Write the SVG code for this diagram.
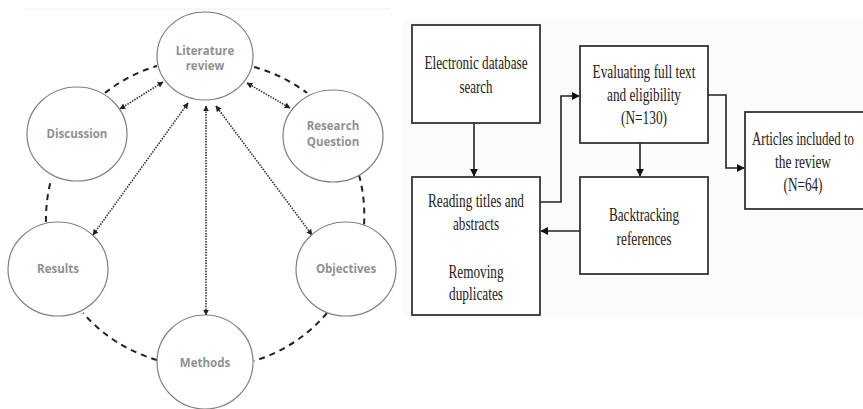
<svg xmlns="http://www.w3.org/2000/svg" width="863" height="409" viewBox="0 0 863 409">
<style>
.c{fill:#fff;stroke:#808080;stroke-width:1.2}
.ct{font-family:"Open Sans","Noto Sans",sans-serif;font-weight:bold;font-size:11.5px;fill:#909090;text-anchor:middle}
.dash{fill:none;stroke:#222;stroke-width:2;stroke-dasharray:6 5}
.dot{fill:none;stroke:#333;stroke-width:1.6;stroke-dasharray:1.5 1.2;marker-start:url(#ah);marker-end:url(#ah)}
.b{fill:#fff;stroke:#333;stroke-width:1.8}
.bt{font-family:"Liberation Serif","Times New Roman",serif;font-size:19px;fill:#222;text-anchor:middle}
.ln{fill:none;stroke:#222;stroke-width:1.6;marker-end:url(#fa)}
</style>
<defs>
<marker id="ah" viewBox="0 0 10 10" refX="9" refY="5" markerWidth="6" markerHeight="6" markerUnits="userSpaceOnUse" orient="auto-start-reverse"><path d="M0,0 L10,5 L0,10 z" fill="#222"/></marker>
<marker id="fa" viewBox="0 0 10 10" refX="9" refY="5" markerWidth="8" markerHeight="8" markerUnits="userSpaceOnUse" orient="auto"><path d="M0,0 L10,5 L0,10 z" fill="#111"/></marker>
</defs>
<rect width="863" height="409" fill="#fff"/>
<rect x="402" y="18" width="461" height="300" fill="#fbfbfb"/>
<line x1="25" y1="9" x2="390" y2="9" stroke="#eeeeee" stroke-width="1"/>

<g id="connectors">
<path class="dash" d="M105,93 A155,155 0 0 1 157,66"/>
<path class="dash" d="M254,67 A155,155 0 0 1 307,93"/>
<path class="dash" d="M359,175 A155,155 0 0 1 364,225"/>
<path class="dash" d="M327,313 A155,155 0 0 1 254,361"/>
<path class="dash" d="M157,360 A155,155 0 0 1 83,313"/>
<path class="dash" d="M46,222 A155,155 0 0 1 51,180"/>
<line class="dot" x1="163" y1="82" x2="120" y2="109"/>
<line class="dot" x1="247" y1="83" x2="290" y2="108"/>
<line class="dot" x1="188" y1="103" x2="93" y2="235"/>
<line class="dot" x1="206" y1="106" x2="206" y2="315"/>
<line class="dot" x1="216" y1="106" x2="312" y2="235"/>

<path class="ln" d="M474,123 L474,176"/>
<path class="ln" d="M540,202 L561,202 L561,96 L579,96"/>
<path class="ln" d="M640,143 L640,176"/>
<path class="ln" d="M580,231 L541,231"/>
<path class="ln" d="M708,95 L726,95 L726,168 L744,168"/>
</g>

<g id="literature-review"><ellipse class="c" cx="205" cy="56" rx="48" ry="44"/><text class="ct" x="205" y="55">Literature</text><text class="ct" x="205" y="70">review</text></g>
<g id="discussion"><ellipse class="c" cx="77" cy="134" rx="50" ry="47"/><text class="ct" x="77" y="138">Discussion</text></g>
<g id="research-question"><ellipse class="c" cx="333" cy="136" rx="50" ry="46"/><text class="ct" x="333" y="130">Research</text><text class="ct" x="333" y="146">Question</text></g>
<g id="results"><ellipse class="c" cx="58" cy="269" rx="50" ry="47"/><text class="ct" x="58" y="273">Results</text></g>
<g id="objectives"><ellipse class="c" cx="346" cy="269" rx="50" ry="47"/><text class="ct" x="346" y="273">Objectives</text></g>
<g id="methods"><ellipse class="c" cx="205" cy="362" rx="48" ry="47"/><text class="ct" x="205" y="367">Methods</text></g>

<g id="electronic-database-search"><rect class="b" x="412" y="25" width="128" height="98"/>
<text class="bt" x="476" y="69" textLength="103" lengthAdjust="spacingAndGlyphs">Electronic database</text>
<text class="bt" x="476" y="93" textLength="33" lengthAdjust="spacingAndGlyphs">search</text></g>
<g id="reading-titles"><rect class="b" x="412" y="177" width="128" height="138"/>
<text class="bt" x="476" y="207" textLength="96" lengthAdjust="spacingAndGlyphs">Reading titles and</text>
<text class="bt" x="476" y="230" textLength="46" lengthAdjust="spacingAndGlyphs">abstracts</text>
<text class="bt" x="476" y="278" textLength="55" lengthAdjust="spacingAndGlyphs">Removing</text>
<text class="bt" x="476" y="300" textLength="54" lengthAdjust="spacingAndGlyphs">duplicates</text></g>
<g id="evaluating-full-text"><rect class="b" x="580" y="46" width="128" height="97"/>
<text class="bt" x="644" y="78" textLength="103" lengthAdjust="spacingAndGlyphs">Evaluating full text</text>
<text class="bt" x="644" y="101" textLength="74" lengthAdjust="spacingAndGlyphs">and eligibility</text>
<text class="bt" x="644" y="124" textLength="46" lengthAdjust="spacingAndGlyphs">(N=130)</text></g>
<g id="backtracking-references"><rect class="b" x="580" y="177" width="128" height="97"/>
<text class="bt" x="644" y="221" textLength="70" lengthAdjust="spacingAndGlyphs">Backtracking</text>
<text class="bt" x="644" y="245" textLength="55" lengthAdjust="spacingAndGlyphs">references</text></g>
<g id="articles-included"><rect class="b" x="745" y="112" width="130" height="97"/>
<text class="bt" x="803" y="145" textLength="102" lengthAdjust="spacingAndGlyphs">Articles included to</text>
<text class="bt" x="803" y="168" textLength="56" lengthAdjust="spacingAndGlyphs">the review</text>
<text class="bt" x="803" y="191" textLength="39" lengthAdjust="spacingAndGlyphs">(N=64)</text></g>
</svg>
